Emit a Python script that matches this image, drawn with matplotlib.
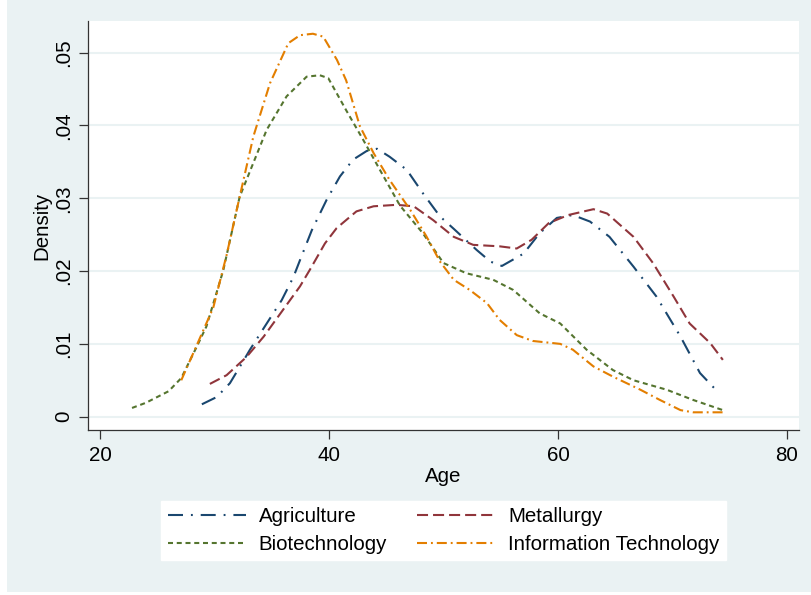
import matplotlib
matplotlib.use("Agg")
import matplotlib.pyplot as plt
from matplotlib.patches import Rectangle

plt.rcParams['font.family'] = ['Liberation Sans', 'DejaVu Sans']

# ---- data (kernel density by sector) ----
agri_x = [28.9, 30.2, 31.35, 32.5, 33.1, 34.4, 35.87, 36.9, 37.47, 38.5, 39.8, 40.96, 42.1, 43.3,
          44.2, 45.3, 46.8, 48.2, 49.7, 50.9, 52.9, 54.1, 55.1, 57.0, 58.4, 59.9, 61.3, 62.8,
          64.5, 66.6, 68.6, 70.7, 72.4, 73.9]
agri_y = [0.0017, 0.0027, 0.0046, 0.0076, 0.0092, 0.0124, 0.0160, 0.0192, 0.0215, 0.0256, 0.0298,
          0.0330, 0.0353, 0.0365, 0.0368, 0.0357, 0.0339, 0.0307, 0.0275, 0.0258, 0.0229, 0.0213,
          0.0207, 0.0224, 0.0252, 0.0273, 0.0277, 0.0268, 0.0247, 0.0206, 0.0165, 0.0110, 0.0060,
          0.0035]

metal_x = [29.6, 31.06, 32.8, 34.3, 36.0, 37.47, 38.34, 39.65, 40.67, 42.4, 43.9, 45.9, 47.4, 49.1,
           50.9, 52.6, 54.9, 56.4, 57.7, 59.2, 60.9, 63.1, 64.3, 66.6, 68.3, 70.1, 71.5, 73.3, 74.4]
metal_y = [0.0045, 0.0057, 0.0082, 0.0110, 0.0147, 0.0179, 0.0202, 0.0238, 0.0259, 0.0282, 0.0289,
           0.0291, 0.0289, 0.0270, 0.0247, 0.0236, 0.0234, 0.0231, 0.0243, 0.0266, 0.0277, 0.0285,
           0.0279, 0.0247, 0.0211, 0.0165, 0.0128, 0.0101, 0.0078]

bio_x = [22.8, 24.0, 26.0, 27.1, 28.45, 29.3, 30.77, 32.2, 34.56, 36.3, 38.05, 39.2, 39.94, 41.5,
         43.0, 44.45, 46.2, 48.2, 50.0, 52.0, 54.35, 56.1, 58.4, 60.2, 62.5, 64.8, 66.6, 69.5,
         71.8, 74.4]
bio_y = [0.0012, 0.0019, 0.0035, 0.0053, 0.0096, 0.0124, 0.0201, 0.0302, 0.0394, 0.0440, 0.0467,
         0.0469, 0.0465, 0.0421, 0.0380, 0.0339, 0.0290, 0.0252, 0.0211, 0.0197, 0.0188, 0.0174,
         0.0142, 0.0128, 0.0092, 0.0064, 0.0050, 0.0037, 0.0023, 0.0009]

it_x = [27.1, 28.45, 29.9, 31.06, 32.2, 33.4, 34.85, 36.45, 37.47, 38.6, 39.5, 40.7, 41.5, 42.7,
        43.9, 45.3, 47.1, 48.5, 49.7, 50.9, 52.3, 53.8, 54.9, 56.4, 57.8, 60.2, 61.3, 63.1,
        64.8, 67.2, 68.9, 70.7, 71.8, 74.4]
it_y = [0.0050, 0.0098, 0.0150, 0.0222, 0.0302, 0.0385, 0.0458, 0.0513, 0.0524, 0.0526, 0.0522,
        0.0490, 0.0462, 0.0399, 0.0362, 0.0325, 0.0284, 0.0248, 0.0213, 0.0188, 0.0174, 0.0156,
        0.0133, 0.0112, 0.0104, 0.0100, 0.0092, 0.0069, 0.0055, 0.0037, 0.0023, 0.0009, 0.0006,
        0.0006]

labels = ['Agriculture', 'Metallurgy', 'Biotechnology', 'Information Technology']
x_ticks = [20, 40, 60, 80]
y_ticks = [0, 0.01, 0.02, 0.03, 0.04, 0.05]
y_ticklabels = ['0', '.01', '.02', '.03', '.04', '.05']

BG = '#eaf2f3'
FS = 14.8

fig = plt.figure(figsize=(8.11, 5.95), dpi=100, facecolor='white')
# graph region (light blue-grey), leaves a thin white strip at left/bottom like the source
fig.patches.append(Rectangle((7 / 811, 3 / 595), 1, 1, transform=fig.transFigure,
                             facecolor=BG, edgecolor='none', zorder=-10))

ax = fig.add_axes([87.7 / 811, 1 - 430 / 595, (799 - 87.7) / 811, (430 - 21) / 595])
ax.set_facecolor('white')

lw = 1.5
h_agri, = ax.plot(agri_x, agri_y, color='#1a476f', lw=lw, ls=(0, (7.2, 3.8, 0.9, 3.8)))
h_metal, = ax.plot(metal_x, metal_y, color='#90353b', lw=lw, ls=(0, (5.3, 2.4)))
h_bio, = ax.plot(bio_x, bio_y, color='#55752f', lw=lw, ls=(0, (2.4, 1.8)))
h_it, = ax.plot(it_x, it_y, color='#e37e00', lw=lw, ls=(0, (4.8, 1.9, 0.9, 1.9)))

ax.set_xlim(18.93, 81.05)
ax.set_ylim(-0.00183, 0.05435)
ax.set_xticks(x_ticks)
ax.set_yticks(y_ticks)
ax.set_yticklabels(y_ticklabels)
ax.tick_params(axis='both', labelsize=FS, length=6.2, width=0.9, color='#333333')
ax.tick_params(axis='x', pad=5.5)
ax.tick_params(axis='y', pad=4.5)
plt.setp(ax.get_yticklabels(), rotation=90, va='center')

ax.grid(axis='y', color=BG, lw=1.5)
ax.set_axisbelow(True)
for side in ['top', 'right']:
    ax.spines[side].set_visible(False)
for side in ['left', 'bottom']:
    ax.spines[side].set_color('#333333')
    ax.spines[side].set_linewidth(0.9)

ax.set_xlabel('Age', fontsize=FS, labelpad=1)
ax.set_ylabel('Density', fontsize=FS, labelpad=1.5)

# column-major order so rows read Agriculture/Metallurgy, Biotechnology/IT
handles = [h_agri, h_bio, h_metal, h_it]
leg_labels = [labels[0], labels[2], labels[1], labels[3]]
leg = fig.legend(handles, leg_labels, loc='center', bbox_to_anchor=(0.5469, 0.1084), ncol=2,
                 fontsize=FS, frameon=True, fancybox=False, framealpha=1, facecolor='white',
                 edgecolor='white', handlelength=3.8, handletextpad=0.63,
                 columnspacing=1.46, labelspacing=0.42, borderpad=0.3)

fig.savefig('out.png', dpi=100, facecolor='white')
